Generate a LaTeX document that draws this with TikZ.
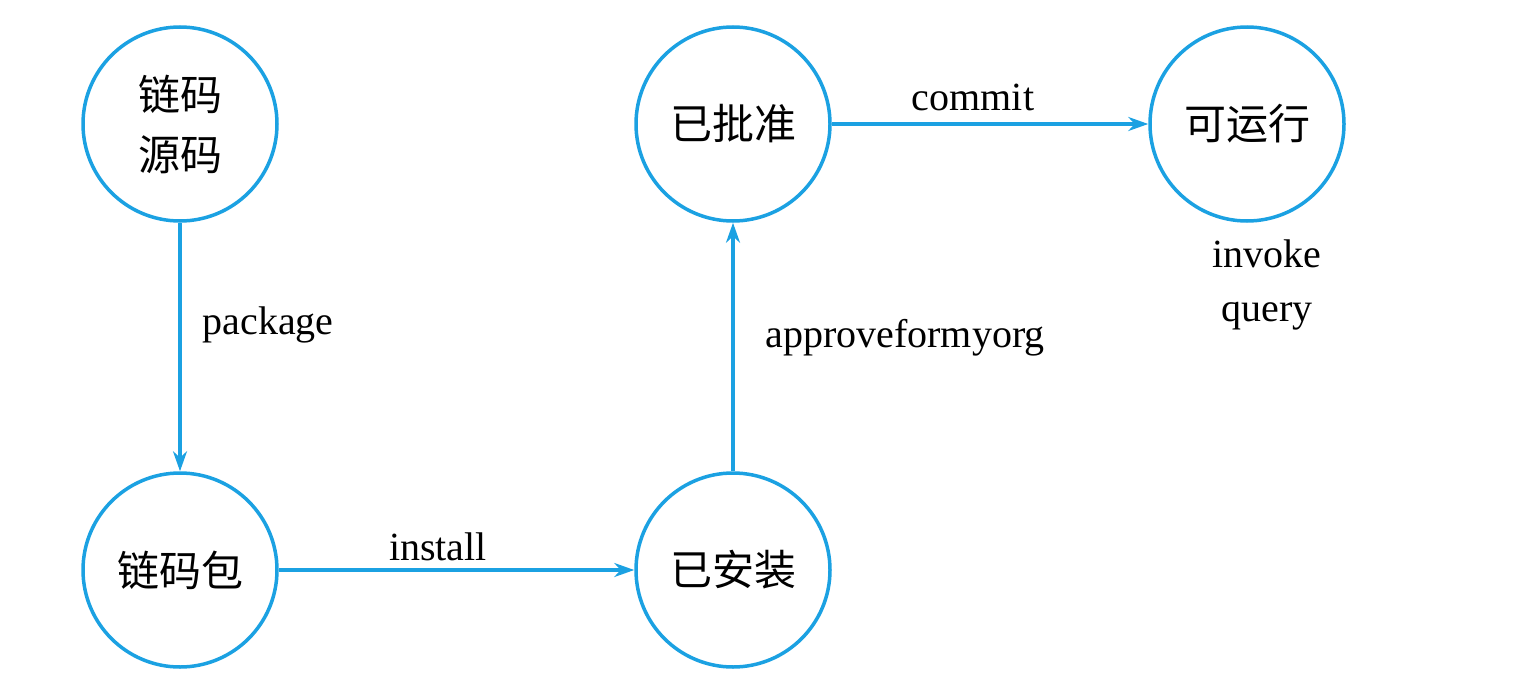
\documentclass[tikz,border=0pt]{standalone}
\usepackage{fontspec}
\setmainfont{Liberation Serif}
\newfontfamily\cjk{Noto Sans CJK SC}
\usetikzlibrary{arrows.meta}
\definecolor{lineblue}{RGB}{27,161,226}
\begin{document}
\begin{tikzpicture}[x=1pt,y=-1pt,
  state/.style={circle,draw=lineblue,line width=3.5pt,minimum size=194pt,inner sep=0pt,font=\fontsize{42}{60}\selectfont\cjk,align=center},
  conn/.style={draw=lineblue,line width=3.5pt,-{Stealth[length=20pt,width=14pt]}},
  lbl/.style={font=\fontsize{40}{46}\selectfont,align=center}]
\useasboundingbox (0,0) rectangle (1516,688);
\node[state] (src) at (180,124) {链码\\源码};
\node[state] (pkg) at (180,570) {链码包};
\node[state] (ins) at (733,570) {已安装};
\node[state] (app) at (733,124) {已批准};
\node[state] (run) at (1247,124) {可运行};
\draw[conn] (src) -- (pkg);
\draw[conn] (pkg) -- (ins);
\draw[conn] (ins) -- (app);
\draw[conn] (app) -- (run);
\node[lbl] (l1) at (268,325) {package};
\node[lbl] (l2) at (438,547) {install};
\node[lbl] (l3) at (905,338) {approveformyorg};
\node[lbl] (l4) at (973,97) {commit};
\node[lbl] (l5) at (1267,254) {invoke};
\node[lbl] (l6) at (1267,316) {query};
\end{tikzpicture}
\end{document}
